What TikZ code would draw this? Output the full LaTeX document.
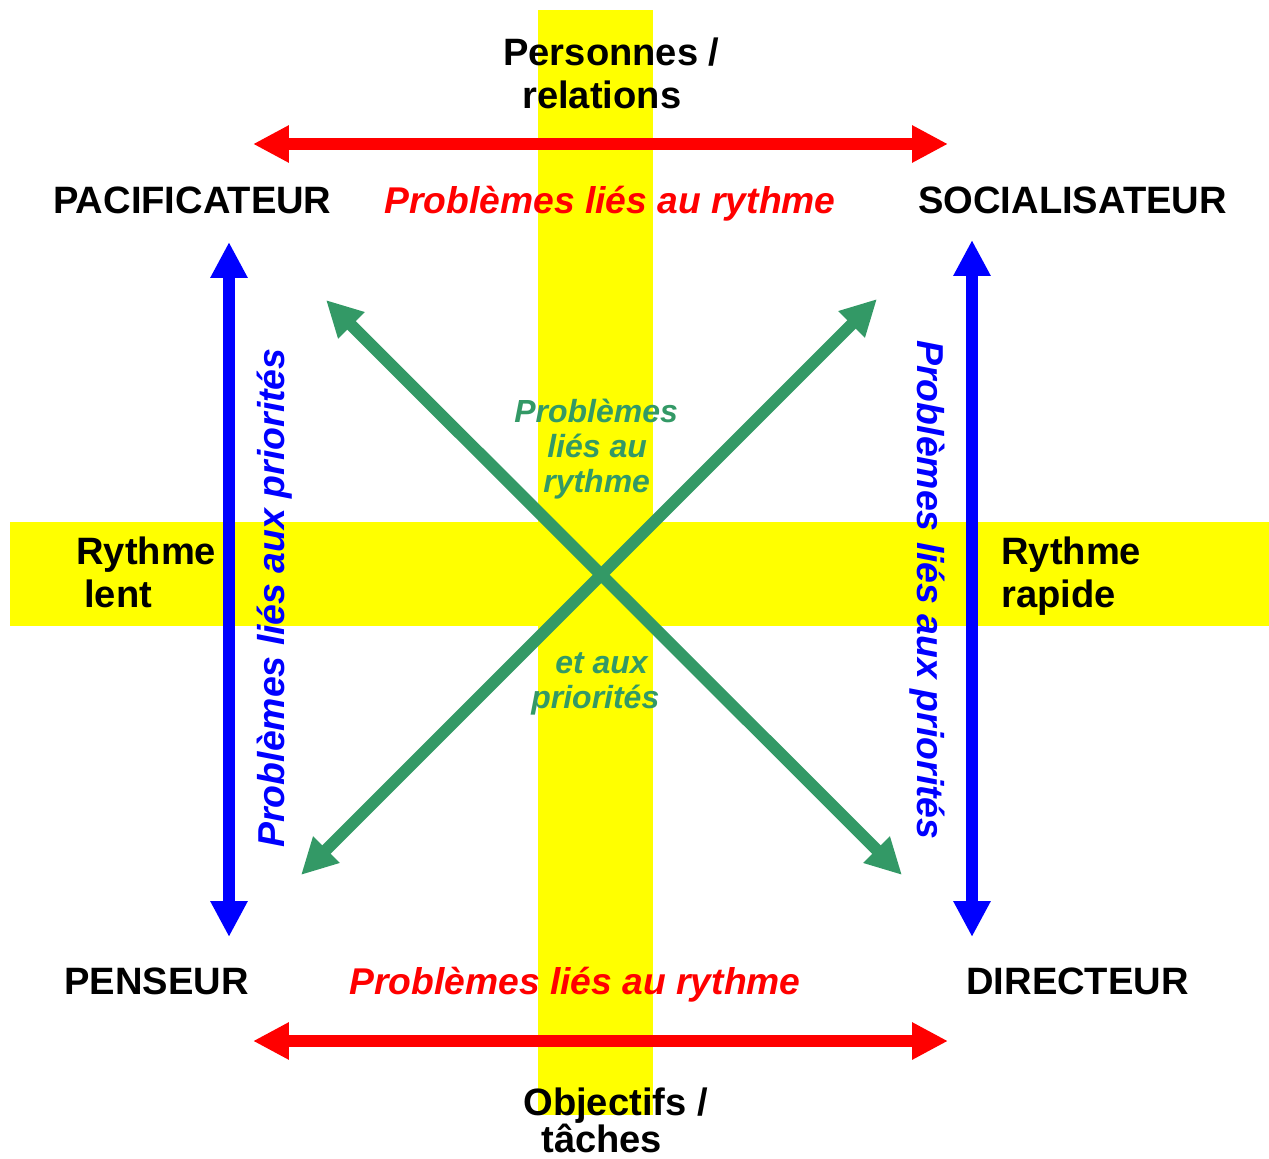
\documentclass[tikz,border=0pt]{standalone}
\usepackage{fontspec}
\setmainfont{Liberation Sans}
\usetikzlibrary{arrows.meta}
\definecolor{seagreen}{RGB}{51,153,102}
\definecolor{bandyellow}{RGB}{255,255,0}
\tikzset{
  band/.style={fill=bandyellow, draw=none},
  dblarrow/.style={line width=0.24cm, {Triangle[length=0.72cm, width=0.7cm]}-{Triangle[length=0.72cm, width=0.7cm]}},
  label/.style={inner sep=0pt, anchor=base west, font=\fontsize{21.7}{25}\selectfont\bfseries},
  redlabel/.style={label, text=red, font=\fontsize{21.2}{25}\selectfont\bfseries\itshape},
  bluelabel/.style={label, text=blue, font=\fontsize{21.3}{25}\selectfont\bfseries\itshape},
  greenlabel/.style={label, text=seagreen, font=\fontsize{18.2}{21}\selectfont\bfseries\itshape}
}
\begin{document}
\begin{tikzpicture}[x=0.02cm, y=-0.02cm]
\useasboundingbox (0,0) rectangle (1269,1159);

% yellow cross
\fill[band] (538,10) rectangle (653,1115);
\fill[band] (10,522) rectangle (1269,626);

% arrow ends
\coordinate (topL) at (253,144);
\coordinate (topR) at (948,144);
\coordinate (botL) at (253,1041);
\coordinate (botR) at (948,1041);
\coordinate (leftT) at (229,242);
\coordinate (leftB) at (229,937);
\coordinate (rightT) at (972,240);
\coordinate (rightB) at (972,937);
\coordinate (diagNW) at (326,300);
\coordinate (diagSE) at (902,875);
\coordinate (diagNE) at (877,299);
\coordinate (diagSW) at (301,875);

\draw[dblarrow, red] (topL) -- (topR);
\draw[dblarrow, red] (botL) -- (botR);
\draw[dblarrow, blue] (leftT) -- (leftB);
\draw[dblarrow, blue] (rightT) -- (rightB);
\draw[dblarrow, seagreen] (diagNW) -- (diagSE);
\draw[dblarrow, seagreen] (diagNE) -- (diagSW);

% axis labels
\node[label] (pers) at (503,66) {Personnes /};
\node[label] (rel) at (522,109) {relations};
\node[label] (obj) at (523,1115) {Objectifs /};
\node[label] (tach) at (541,1152) {tâches};
\node[label] (lent1) at (76,564) {Rythme};
\node[label] (lent2) at (84,607) {lent};
\node[label] (rap1) at (1001,564) {Rythme};
\node[label] (rap2) at (1001,607) {rapide};

% corners
\node[label] (pacif) at (53,214) {PACIFICATEUR};
\node[label] (social) at (918,214) {SOCIALISATEUR};
\node[label] (penseur) at (64,994) {PENSEUR};
\node[label] (direct) at (966,994) {DIRECTEUR};

% problems
\node[redlabel] (rtop) at (384,214) {Problèmes liés au rythme};
\node[redlabel] (rbot) at (349,994) {Problèmes liés au rythme};
\node[bluelabel, rotate=90] (bleft) at (284,848) {Problèmes liés aux priorités};
\node[bluelabel, rotate=-90] (bright) at (917,340) {Problèmes liés aux priorités};
\node[greenlabel] (g1) at (514,422) {Problèmes};
\node[greenlabel] (g2) at (547,457) {liés au};
\node[greenlabel] (g3) at (543,492) {rythme};
\node[greenlabel] (g4) at (555,673) {et aux};
\node[greenlabel] (g5) at (531,708) {priorités};
\end{tikzpicture}
\end{document}
